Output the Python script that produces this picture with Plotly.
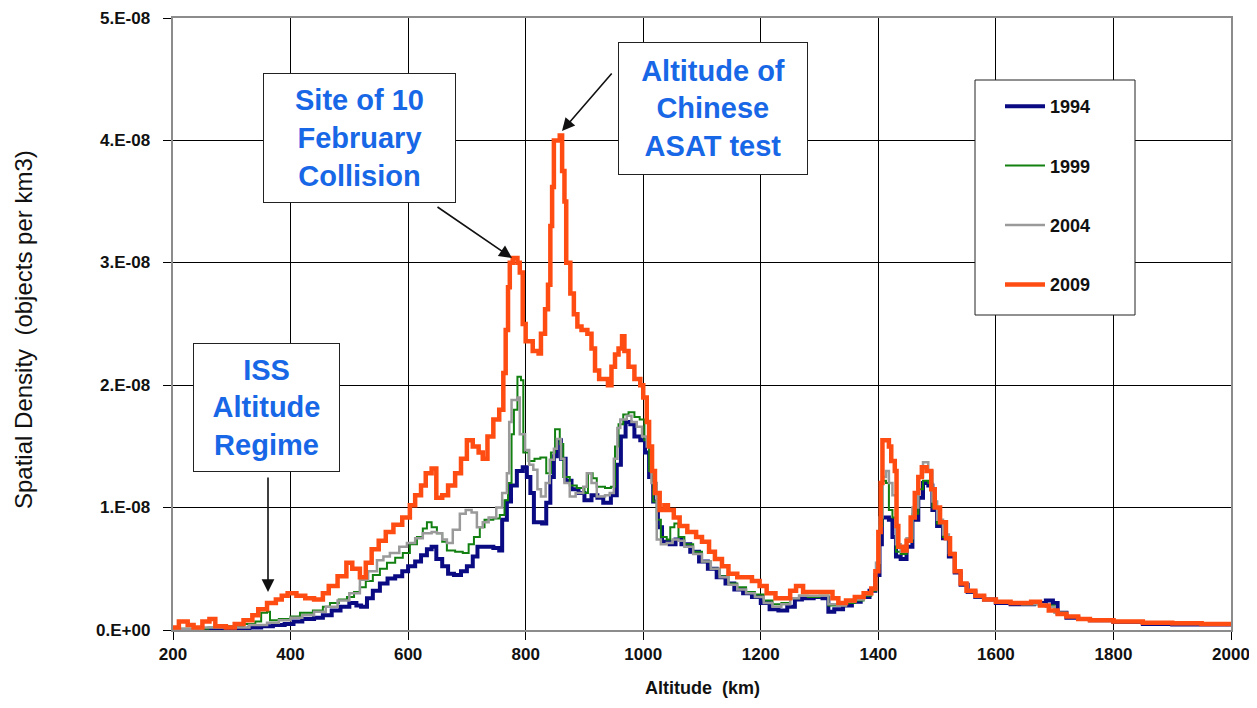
import plotly.graph_objects as go

# ---------------- data (density in units of 1e-8 objects per km^3) ----------------
alt_2009 = [200, 210, 225, 235, 250, 262, 272, 290, 305, 320, 335, 345, 360, 375, 385, 395, 410, 425, 440, 455,
            465, 480, 495, 505, 518, 528, 538, 550, 562, 575, 590, 603, 612, 622, 630, 640, 648, 658, 668, 680,
            690, 700, 710, 720, 727, 735, 745, 755, 762, 766, 770, 773, 778, 786, 790, 795, 800, 812, 822, 826,
            833, 838, 842, 845, 848, 858, 862, 866, 869, 876, 882, 888, 895, 905, 912, 918, 925, 940, 946, 952,
            958, 964, 968, 975, 985, 995, 1000, 1006, 1010, 1015, 1020, 1028, 1036, 1042, 1052, 1062, 1075, 1090, 1100, 1112,
            1122, 1134, 1145, 1160, 1175, 1185, 1198, 1210, 1225, 1240, 1250, 1260, 1272, 1290, 1310, 1322, 1332, 1345, 1360, 1375,
            1388, 1395, 1400, 1404, 1407, 1418, 1422, 1428, 1431, 1434, 1442, 1448, 1455, 1462, 1468, 1474, 1482, 1490, 1496, 1505,
            1515, 1522, 1530, 1540, 1550, 1565, 1580, 1600, 1625, 1645, 1660, 1675, 1690, 1705, 1720, 1740, 1760, 1800, 1850, 1900,
            1950, 2000]
val_2009 = [0.02, 0.07, 0.04, 0.02, 0.07, 0.09, 0.03, 0.02, 0.05, 0.08, 0.12, 0.17, 0.22, 0.25, 0.28, 0.30, 0.28, 0.26, 0.25, 0.30,
            0.36, 0.44, 0.55, 0.50, 0.43, 0.55, 0.66, 0.73, 0.80, 0.86, 0.92, 1.02, 1.10, 1.18, 1.28, 1.32, 1.08, 1.10, 1.18, 1.28,
            1.40, 1.55, 1.50, 1.45, 1.40, 1.58, 1.72, 1.80, 2.10, 2.45, 2.80, 3.00, 3.04, 3.00, 2.92, 2.50, 2.36, 2.28, 2.26, 2.42,
            2.62, 2.82, 3.30, 3.62, 4.00, 4.04, 3.75, 3.50, 3.00, 2.75, 2.58, 2.48, 2.45, 2.42, 2.30, 2.12, 2.05, 2.00, 2.15, 2.25,
            2.30, 2.40, 2.28, 2.15, 2.05, 2.00, 1.90, 1.70, 1.50, 1.30, 1.12, 0.98, 1.02, 0.98, 0.92, 0.85, 0.80, 0.76, 0.72, 0.64,
            0.58, 0.52, 0.46, 0.43, 0.43, 0.40, 0.36, 0.30, 0.26, 0.26, 0.32, 0.36, 0.31, 0.31, 0.31, 0.26, 0.22, 0.24, 0.27, 0.30,
            0.34, 0.48, 0.80, 1.20, 1.55, 1.50, 1.38, 1.30, 0.85, 0.68, 0.65, 0.73, 0.92, 1.12, 1.25, 1.33, 1.30, 1.15, 1.00, 0.88,
            0.75, 0.62, 0.48, 0.38, 0.32, 0.28, 0.25, 0.23, 0.22, 0.22, 0.23, 0.20, 0.16, 0.13, 0.11, 0.09, 0.08, 0.07, 0.06, 0.055,
            0.05, 0.05]

alt_1994 = [200, 300, 330, 350, 370, 390, 405, 420, 440, 455, 470, 485, 500, 512, 520, 530, 540, 552, 565, 578,
            590, 600, 612, 622, 632, 640, 648, 658, 668, 678, 690, 700, 710, 718, 730, 745, 755, 760, 768, 775,
            785, 795, 802, 808, 814, 828, 835, 842, 848, 853, 860, 868, 878, 890, 900, 912, 922, 932, 945, 955,
            962, 970, 978, 985, 995, 1003, 1010, 1017, 1025, 1032, 1045, 1055, 1065, 1080, 1095, 1110, 1125, 1140, 1155, 1170,
            1185, 1200, 1215, 1230, 1245, 1258, 1270, 1290, 1305, 1315, 1325, 1340, 1355, 1370, 1385, 1395, 1402, 1406, 1418, 1424,
            1430, 1438, 1448, 1458, 1468, 1476, 1485, 1492, 1500, 1510, 1520, 1530, 1540, 1552, 1565, 1580, 1600, 1625, 1645, 1665,
            1685, 1697, 1705, 1720, 1740, 1760, 1800, 1850, 1900, 1950, 2000]
val_1994 = [0.00, 0.01, 0.02, 0.03, 0.04, 0.05, 0.07, 0.09, 0.10, 0.12, 0.16, 0.19, 0.22, 0.20, 0.19, 0.26, 0.32, 0.38, 0.42, 0.44,
            0.48, 0.52, 0.56, 0.61, 0.66, 0.68, 0.58, 0.52, 0.46, 0.45, 0.48, 0.52, 0.60, 0.68, 0.68, 0.67, 0.65, 0.90, 1.05, 1.18,
            1.30, 1.33, 1.25, 1.12, 0.88, 0.87, 1.04, 1.25, 1.42, 1.55, 1.40, 1.22, 1.15, 1.12, 1.06, 1.10, 1.08, 1.04, 1.10, 1.35,
            1.58, 1.70, 1.68, 1.58, 1.55, 1.45, 1.25, 1.05, 0.84, 0.72, 0.70, 0.74, 0.70, 0.64, 0.56, 0.50, 0.43, 0.38, 0.33, 0.30,
            0.27, 0.22, 0.17, 0.16, 0.19, 0.25, 0.26, 0.27, 0.26, 0.15, 0.17, 0.20, 0.23, 0.27, 0.32, 0.45, 0.70, 0.92, 0.90, 0.76,
            0.60, 0.58, 0.68, 0.90, 1.08, 1.20, 1.18, 0.98, 0.85, 0.75, 0.60, 0.47, 0.37, 0.31, 0.27, 0.25, 0.22, 0.21, 0.21, 0.22,
            0.24, 0.22, 0.14, 0.10, 0.09, 0.08, 0.065, 0.05, 0.045, 0.045, 0.045]

alt_1999 = [200, 260, 290, 320, 340, 350, 360, 365, 380, 400, 416, 438, 455, 467, 482, 496, 508, 518, 528, 540,
            552, 564, 578, 591, 603, 615, 625, 632, 640, 649, 658, 666, 680, 693, 703, 712, 722, 730, 745, 756,
            764, 770, 776, 780, 786, 792, 796, 805, 815, 825, 835, 843, 850, 858, 864, 875, 887, 900, 906, 914,
            921, 935, 945, 952, 958, 966, 975, 985, 994, 1002, 1010, 1017, 1023, 1030, 1040, 1046, 1053, 1060, 1070, 1085,
            1100, 1115, 1130, 1145, 1160, 1175, 1190, 1205, 1220, 1235, 1250, 1265, 1280, 1300, 1315, 1330, 1345, 1360, 1375, 1388,
            1396, 1402, 1407, 1413, 1418, 1424, 1430, 1438, 1448, 1458, 1468, 1476, 1485, 1492, 1500, 1510, 1520, 1530, 1540, 1552,
            1565, 1580, 1600, 1625, 1645, 1665, 1685, 1700, 1720, 1740, 1760, 1800, 1850, 1900, 1950, 2000]
val_1999 = [0.01, 0.02, 0.03, 0.05, 0.07, 0.14, 0.15, 0.08, 0.09, 0.11, 0.14, 0.16, 0.19, 0.22, 0.25, 0.27, 0.31, 0.35, 0.40, 0.45,
            0.50, 0.55, 0.59, 0.63, 0.70, 0.76, 0.83, 0.88, 0.84, 0.79, 0.72, 0.65, 0.64, 0.63, 0.70, 0.76, 0.84, 0.90, 0.91, 0.94,
            1.06, 1.20, 1.60, 1.80, 2.07, 2.04, 1.45, 1.38, 1.40, 1.41, 1.28, 1.45, 1.64, 1.52, 1.25, 1.18, 1.16, 1.12, 1.28, 1.24,
            1.17, 1.16, 1.17, 1.50, 1.68, 1.76, 1.78, 1.74, 1.72, 1.55, 1.30, 1.05, 0.90, 0.76, 0.74, 0.84, 0.87, 0.76, 0.70, 0.64,
            0.56, 0.50, 0.44, 0.38, 0.35, 0.31, 0.29, 0.24, 0.21, 0.22, 0.26, 0.28, 0.27, 0.28, 0.20, 0.20, 0.22, 0.24, 0.28, 0.32,
            0.50, 0.85, 1.22, 1.20, 0.98, 0.92, 0.64, 0.62, 0.72, 0.95, 1.15, 1.22, 1.20, 1.00, 0.87, 0.76, 0.62, 0.48, 0.38, 0.31,
            0.27, 0.25, 0.23, 0.22, 0.21, 0.21, 0.20, 0.14, 0.11, 0.09, 0.08, 0.065, 0.055, 0.05, 0.05, 0.05]

alt_2004 = [200, 250, 290, 330, 360, 380, 400, 420, 440, 460, 480, 500, 518, 532, 547, 558, 569, 585, 598, 612,
            625, 640, 649, 658, 666, 676, 688, 698, 708, 717, 727, 737, 750, 760, 768, 772, 776, 786, 790, 799,
            806, 813, 820, 826, 834, 841, 848, 853, 860, 866, 875, 885, 898, 904, 912, 921, 935, 943, 950, 956,
            961, 972, 980, 989, 998, 1006, 1014, 1023, 1030, 1040, 1050, 1060, 1070, 1085, 1100, 1115, 1130, 1145, 1160, 1175,
            1190, 1205, 1220, 1235, 1250, 1265, 1280, 1300, 1315, 1330, 1345, 1360, 1375, 1388, 1396, 1402, 1407, 1413, 1418, 1424,
            1430, 1438, 1448, 1458, 1468, 1476, 1485, 1492, 1500, 1510, 1520, 1530, 1540, 1552, 1565, 1580, 1600, 1625, 1645, 1665,
            1685, 1700, 1720, 1740, 1760, 1800, 1850, 1900, 1950, 2000]
val_2004 = [0.01, 0.02, 0.02, 0.04, 0.06, 0.08, 0.10, 0.12, 0.15, 0.19, 0.24, 0.30, 0.41, 0.48, 0.57, 0.60, 0.63, 0.68, 0.71, 0.75,
            0.79, 0.80, 0.79, 0.74, 0.71, 0.82, 0.95, 0.98, 0.96, 0.84, 0.88, 0.92, 1.00, 1.12, 1.28, 1.70, 1.88, 1.90, 1.60, 1.47,
            1.35, 1.31, 1.15, 1.09, 1.20, 1.39, 1.48, 1.56, 1.40, 1.20, 1.09, 1.12, 1.17, 1.28, 1.20, 1.09, 1.10, 1.12, 1.40, 1.65,
            1.72, 1.75, 1.70, 1.66, 1.58, 1.50, 1.20, 0.74, 0.70, 0.71, 0.74, 0.73, 0.68, 0.62, 0.56, 0.50, 0.43, 0.37, 0.33, 0.30,
            0.27, 0.22, 0.19, 0.21, 0.26, 0.28, 0.28, 0.28, 0.21, 0.20, 0.23, 0.25, 0.29, 0.33, 0.55, 0.92, 1.25, 1.30, 1.20, 1.10,
            0.70, 0.64, 0.75, 1.00, 1.25, 1.37, 1.30, 1.05, 0.90, 0.78, 0.63, 0.48, 0.38, 0.31, 0.27, 0.25, 0.23, 0.22, 0.21, 0.21,
            0.19, 0.14, 0.11, 0.09, 0.08, 0.065, 0.055, 0.05, 0.05, 0.05]

series_names = ["1994", "1999", "2004", "2009"]
series_colors = ["#0a0a82", "#118011", "#9a9a9a", "#ff4c12"]
series_widths = [4, 2, 2.5, 4.5]

y_tick_vals = [0, 1e-8, 2e-8, 3e-8, 4e-8, 5e-8]
y_tick_text = ["0.E+00", "1.E-08", "2.E-08", "3.E-08", "4.E-08", "5.E-08"]
x_tick_vals = [200, 400, 600, 800, 1000, 1200, 1400, 1600, 1800, 2000]

UNIT = 1e-8

# ---------------- layout geometry (page pixels; page body has an 8px margin) ----------------
OFF = 8
W, H = 1257 - 2 * OFF, 708 - 2 * OFF
L, T, PW, PH = 173 - OFF, 18 - OFF, 1058, 612
XMIN, XMAX, YMAX = 200, 2000, 5e-8


def px_x(px):
    return XMIN + (px - OFF - L) / PW * (XMAX - XMIN)


def px_y(py):
    return (T + PH - (py - OFF)) / PH * YMAX


def paper_x(px):
    return (px - OFF - L) / PW


def paper_y(py):
    return (T + PH - (py - OFF)) / PH


FONT = "Arial, 'Liberation Sans', Helvetica, sans-serif"

fig = go.Figure()
alts = [alt_1994, alt_1999, alt_2004, alt_2009]
vals = [val_1994, val_1999, val_2004, val_2009]
for name, a, v, c, w in zip(series_names, alts, vals, series_colors, series_widths):
    fig.add_trace(go.Scatter(
        x=a, y=[vv * UNIT for vv in v], mode="lines", name=f"<b>{name}</b>",
        line=dict(color=c, width=w, shape="hv"),
        legendgroup=name,
    ))

axis_common = dict(
    showgrid=True, gridcolor="#000000", gridwidth=1,
    showline=True, linecolor="#8c8c8c", linewidth=2, mirror=True,
    ticks="outside", ticklen=8, tickcolor="#000000", tickwidth=1,
    zeroline=False, automargin=False, ticklabeloverflow="allow",
)

fig.update_xaxes(
    range=[XMIN, XMAX], tickvals=x_tick_vals,
    ticktext=[f"<b>{v}</b>" for v in x_tick_vals],
    tickfont=dict(family=FONT, size=17, color="#111"),
    **axis_common,
)
fig.update_yaxes(
    range=[0, YMAX], tickvals=y_tick_vals,
    showticklabels=False,
    **axis_common,
)

# y tick labels placed as right-aligned texts left of the tick marks
for tv, tt in zip(y_tick_vals, y_tick_text):
    fig.add_annotation(text=f"<b>{tt}</b>", xref="paper", yref="y",
                       x=paper_x(152), y=tv, xanchor="right", yanchor="middle",
                       showarrow=False,
                       font=dict(family=FONT, size=17, color="#111"))

# legend box
fig.add_shape(type="rect", xref="paper", yref="paper",
              x0=paper_x(975), x1=paper_x(1135), y0=paper_y(315), y1=paper_y(80),
              fillcolor="white", line=dict(color="#222", width=1), layer="above")

fig.update_layout(
    width=W, height=H, autosize=False,
    margin=dict(l=L, r=W - L - PW, t=T, b=H - T - PH, autoexpand=False),
    paper_bgcolor="white", plot_bgcolor="white",
    showlegend=True,
    legend=dict(
        x=paper_x(1000), y=paper_y(88), xanchor="left", yanchor="top",
        bgcolor="rgba(0,0,0,0)", borderwidth=0,
        font=dict(family=FONT, size=18, color="#111"),
        tracegroupgap=33, itemwidth=40,
    ),
)

# axis titles
fig.add_annotation(text="<b>Altitude  (km)</b>", xref="paper", yref="paper",
                   x=paper_x(702), y=paper_y(688), xanchor="center", yanchor="middle",
                   showarrow=False,
                   font=dict(family=FONT, size=18, color="#111"))
fig.add_annotation(text="Spatial Density  (objects per km3)", xref="paper", yref="paper",
                   x=paper_x(23), y=paper_y(330), xanchor="center", yanchor="middle",
                   showarrow=False, textangle=-90,
                   font=dict(family=FONT, size=24, color="#111"))

# callout boxes
BLUE = "#1767e6"
boxes = [
    ("ISS<br>Altitude<br>Regime", 193, 340, 343, 472),
    ("Site of 10<br>February<br>Collision", 263, 456, 73, 203),
    ("Altitude of<br>Chinese<br>ASAT test", 618, 808, 42, 175),
]
for text, x0, x1, y0, y1 in boxes:
    fig.add_annotation(
        text=f"<b>{text}</b>", x=px_x((x0 + x1) / 2), y=px_y((y0 + y1) / 2),
        xref="x", yref="y", showarrow=False,
        width=x1 - x0 - 2, height=y1 - y0 - 2, borderpad=0,
        bgcolor="white", bordercolor="#222", borderwidth=1,
        align="center", valign="middle",
        font=dict(family=FONT, size=29, color=BLUE),
    )

arrows = [
    ((268, 476), (268, 592)),
    ((436, 206), (512, 258)),
    ((613, 72), (562, 131)),
]
for (tx, ty), (hx, hy) in arrows:
    fig.add_annotation(
        text="", x=px_x(hx), y=px_y(hy), ax=px_x(tx), ay=px_y(ty),
        xref="x", yref="y", axref="x", ayref="y",
        showarrow=True, arrowhead=2, arrowsize=1.6, arrowwidth=1.6,
        arrowcolor="#111", standoff=0,
    )

fig.write_html("out.html")
